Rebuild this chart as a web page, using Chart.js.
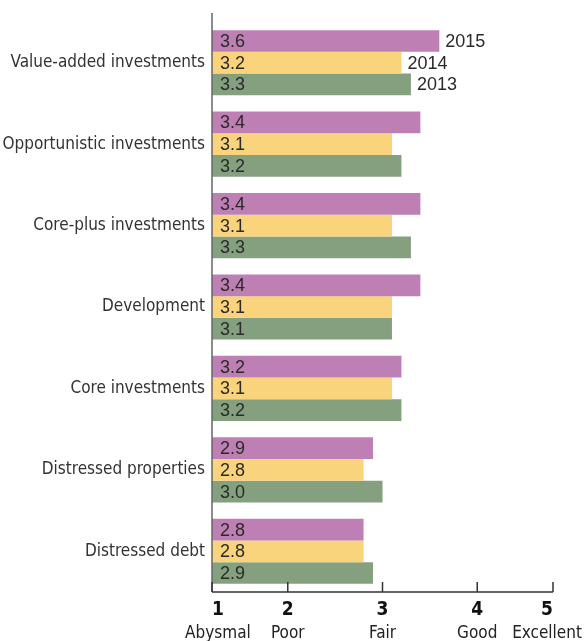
<!DOCTYPE html>
<html><head><meta charset="utf-8">
<script src="https://cdn.jsdelivr.net/npm/chart.js@4"></script>
<style>html,body{margin:0;padding:0;background:#fff}#wrap{width:584px;height:641px}</style>
</head><body><div id="wrap"><canvas id="c" width="584" height="641"></canvas></div>
<script>
const categories = ["Value-added investments","Opportunistic investments","Core-plus investments","Development","Core investments","Distressed properties","Distressed debt"];
const seriesNames = ["2015","2014","2013"];
const values2015 = [3.6,3.4,3.4,3.4,3.2,2.9,2.8];
const values2014 = [3.2,3.1,3.1,3.1,3.1,2.8,2.8];
const values2013 = [3.3,3.2,3.3,3.1,3.2,3.0,2.9];
const tickValues = [1.2,2,3,4,4.8];
const tickNumbers = ["1","2","3","4","5"];
const tickWords = ["Abysmal","Poor","Fair","Good","Excellent"];
const axisMin = 1.2, axisMax = 4.8;

const colors = ["#be7fb5","#fad37d","#84a07e"];
const condensed = "'Liberation Sans Narrow', 'DejaVu Sans Condensed', 'Liberation Sans', sans-serif";
const plain = "'Liberation Sans', Arial, sans-serif";

const noPad = s => { s.paddingLeft = 0; s.paddingRight = 0; s.paddingTop = 0; s.paddingBottom = 0; };

const decorPlugin = {
  id: 'decor',
  afterDatasetsDraw(chart) {
    const ctx = chart.ctx;
    const area = chart.chartArea;
    const xs = chart.scales.x;
    ctx.save();
    ctx.font = "18px " + plain;
    ctx.textBaseline = 'middle';
    ctx.textAlign = 'left';
    ctx.fillStyle = '#2a2a2a';
    chart.data.datasets.forEach((ds, di) => {
      const meta = chart.getDatasetMeta(di);
      meta.data.forEach((bar, i) => {
        ctx.fillText(ds.data[i].toFixed(1), area.left + 8, bar.y + 1);
        if (i === 0) {
          ctx.fillText(ds.label, bar.x + 6, bar.y + 1);
        }
      });
    });
    // axis lines and inward tick marks
    ctx.strokeStyle = '#666';
    ctx.lineWidth = 1.5;
    ctx.beginPath();
    ctx.moveTo(area.left, area.top - 9);
    ctx.lineTo(area.left, area.bottom);
    ctx.stroke();
    ctx.strokeStyle = '#333';
    ctx.beginPath();
    ctx.moveTo(area.left, area.bottom);
    ctx.lineTo(area.right, area.bottom);
    tickValues.forEach(v => {
      const px = xs.getPixelForValue(v);
      ctx.moveTo(px, area.bottom);
      ctx.lineTo(px, area.bottom - 10);
    });
    ctx.stroke();
    // word labels under the tick numbers
    const numFont = "bold 19px " + condensed;
    ctx.textAlign = 'center';
    ctx.textBaseline = 'alphabetic';
    ctx.fillStyle = '#222';
    tickValues.forEach((v, i) => {
      let cx = xs.getPixelForValue(v);
      ctx.font = numFont;
      const w = ctx.measureText(tickNumbers[i]).width;
      if (i === 0) cx = area.left + w / 2;
      if (i === tickValues.length - 1) cx = area.right - w / 2;
      ctx.font = "17px " + condensed;
      ctx.fillText(tickWords[i], cx, area.bottom + 46);
    });
    ctx.restore();
  }
};

new Chart(document.getElementById('c'), {
  type: 'bar',
  data: {
    labels: categories,
    datasets: [
      {label: seriesNames[0], data: values2015, backgroundColor: colors[0]},
      {label: seriesNames[1], data: values2014, backgroundColor: colors[1]},
      {label: seriesNames[2], data: values2013, backgroundColor: colors[2]}
    ]
  },
  options: {
    indexAxis: 'y',
    responsive: false,
    animation: false,
    devicePixelRatio: 1,
    categoryPercentage: 0.8,
    barPercentage: 1.0,
    layout: {padding: {top: 22, right: 31, left: 0, bottom: 0}},
    plugins: {legend: {display: false}, tooltip: {enabled: false}},
    scales: {
      y: {
        type: 'category',
        position: 'left',
        grid: {display: false, drawTicks: false},
        border: {display: false},
        ticks: {font: {family: condensed, size: 17}, color: '#333', padding: 7},
        afterFit: s => { s.width = 212; noPad(s); }
      },
      x: {
        type: 'linear', position: 'bottom',
        min: axisMin, max: axisMax,
        grid: {display: false, drawTicks: false},
        border: {display: false},
        afterBuildTicks: s => { s.ticks = tickValues.map(v => ({value: v})); },
        ticks: {
          autoSkip: false, maxRotation: 0, align: 'inner', padding: 7,
          color: '#111', font: {family: condensed, size: 19, weight: 'bold'},
          callback: (v, i) => tickNumbers[i]
        },
        afterFit: s => { s.height = 49; noPad(s); }
      }
    }
  },
  plugins: [decorPlugin]
});
</script>
</body></html>
